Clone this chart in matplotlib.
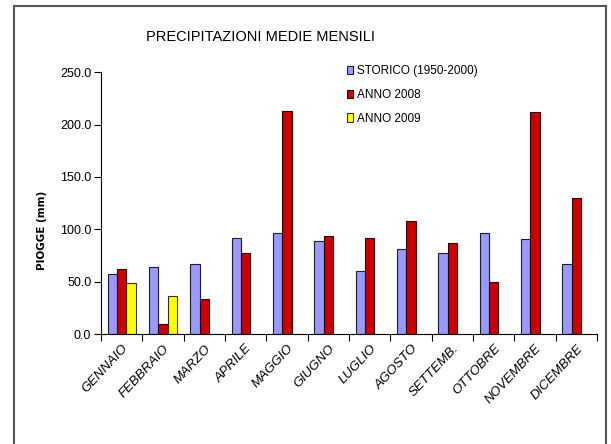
import matplotlib.pyplot as plt
import matplotlib.patches as mpatches
import numpy as np

mesi = ['GENNAIO', 'FEBBRAIO', 'MARZO', 'APRILE', 'MAGGIO', 'GIUGNO',
        'LUGLIO', 'AGOSTO', 'SETTEMB.', 'OTTOBRE', 'NOVEMBRE', 'DICEMBRE']
storico = [57.0, 63.7, 66.9, 92.0, 96.8, 88.8, 60.2, 80.9, 77.7, 96.8, 90.4, 66.9]
anno2008 = [61.8, 9.5, 33.4, 77.7, 213.3, 93.6, 92.0, 107.9, 87.2, 49.4, 212.0, 129.9]
anno2009 = [49.0, 36.6, np.nan, np.nan, np.nan, np.nan,
            np.nan, np.nan, np.nan, np.nan, np.nan, np.nan]
yticks = [0, 50, 100, 150, 200, 250]

plt.rcParams['font.family'] = ['Liberation Sans', 'DejaVu Sans']

fig = plt.figure(figsize=(6.11, 4.44), dpi=100)
ax = fig.add_axes([0.1653, 0.2477, 0.812, 0.5895])

x = np.arange(len(mesi))
w = 0.226
ax.bar(x - w, storico, w, color='#9999FF', edgecolor='#1a1a33', linewidth=0.8,
       label='STORICO (1950-2000)')
ax.bar(x, anno2008, w, color='#CC0000', edgecolor='#330000', linewidth=0.8,
       label='ANNO 2008')
ax.bar(x + w, anno2009, w, color='#FFFF00', edgecolor='#333300', linewidth=0.8,
       label='ANNO 2009')

ax.set_xlim(-0.5, len(mesi) - 0.5)
ax.set_ylim(0, 250)
ax.set_yticks(yticks)
ax.set_yticklabels(['%.1f' % v for v in yticks], fontsize=9)
ax.set_xticks(np.arange(len(mesi) + 1) - 0.5)
ax.set_xticklabels([])
ax.set_xticks(x, minor=True)
ax.set_xticklabels(mesi, minor=True, rotation=47, ha='right',
                   rotation_mode='anchor', fontsize=9.5, style='italic')
ax.tick_params(axis='x', which='minor', length=0, pad=6)
ax.tick_params(axis='x', which='major', length=5, width=0.8)
ax.tick_params(axis='y', length=5, width=0.8, pad=2)
for s in ['top', 'right']:
    ax.spines[s].set_visible(False)
ax.set_ylabel('PIOGGE (mm)', fontsize=7.5, fontweight='bold',
              family=['DejaVu Sans'])
ax.yaxis.set_label_coords(-0.109, 0.397)

fig.text(261 / 611, 1 - 37 / 444, 'PRECIPITAZIONI MEDIE MENSILI',
         ha='center', va='center', fontsize=10.5)

leg = ax.legend(loc='upper left', bbox_to_anchor=(0.474, 1.068), frameon=False,
                fontsize=8.5, handlelength=0.55, handleheight=0.7,
                handletextpad=0.3, labelspacing=1.0)

fig.patches.append(mpatches.Rectangle((14 / 611, -0.1), 592 / 611, 1.0865,
                                      transform=fig.transFigure, fill=False,
                                      edgecolor='#555555', linewidth=1.5))

fig.savefig('out.png', dpi=100)
